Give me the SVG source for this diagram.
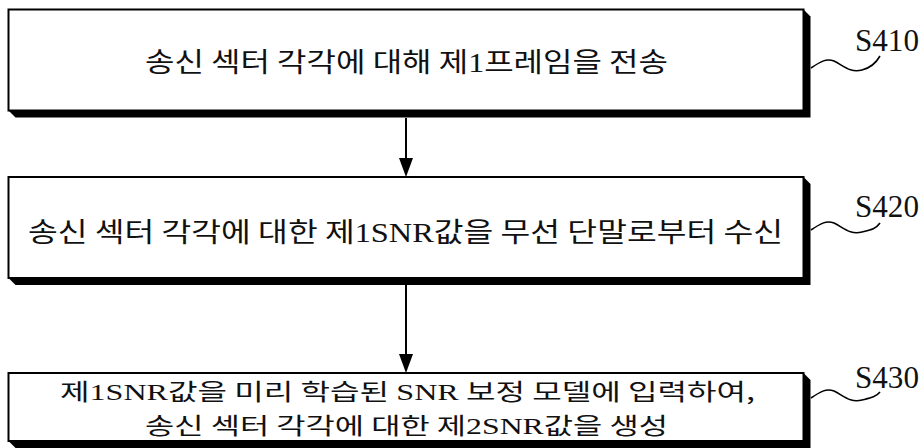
<svg xmlns="http://www.w3.org/2000/svg" width="922" height="448" viewBox="0 0 922 448">
<style>
.box{fill:#fff;stroke:#000;stroke-width:2}
.sh{fill:#000}
.t{font-family:"Noto Sans CJK KR","Noto Sans",sans-serif;font-size:27px;fill:#111}
.t3{font-size:23px}
.l{font-family:"Liberation Serif",serif}
.lab{font-family:"Liberation Serif",serif;font-size:31px;fill:#111}
.wave{fill:none;stroke:#000;stroke-width:1.6}
.conn{stroke:#000;stroke-width:2}
</style>
<rect width="922" height="448" fill="#fff"/>
<g id="connectors">
<line class="conn" x1="406" y1="118" x2="406" y2="158"/>
<path d="M399,158 L413,158 L406,177 Z" fill="#000"/>
<line class="conn" x1="406" y1="285" x2="406" y2="354"/>
<path d="M399,354 L413,354 L406,373 Z" fill="#000"/>
</g>
<g id="S410">
<polygon class="sh" points="803.5,9.5 810.5,16.5 810.5,117.5 15.5,117.5 8.5,110.5"/>
<rect class="box" x="8.5" y="9.5" width="795" height="101"/>
<text class="t" x="145" y="72" textLength="523" lengthAdjust="spacingAndGlyphs">송신 섹터 각각에 대해 제<tspan class="l">1</tspan>프레임을 전송</text>
<path class="wave" d="M811,68 C820,62 826,58 834,61 C844,66 850,73 862,70 C870,68 876,63 880,56"/>
<text class="lab" x="855" y="51" textLength="64" lengthAdjust="spacingAndGlyphs">S410</text>
</g>
<g id="S420">
<polygon class="sh" points="803.5,177 810.5,184 810.5,285 15.5,285 8.5,278"/>
<rect class="box" x="8.5" y="177" width="795" height="101"/>
<text class="t" x="28" y="242" textLength="755" lengthAdjust="spacingAndGlyphs">송신 섹터 각각에 대한 제<tspan class="l">1SNR</tspan>값을 무선 단말로부터 수신</text>
<path class="wave" d="M811,230 C820,224 826,220 834,223 C844,228 850,235 862,232 C870,230 876,229 880,223"/>
<text class="lab" x="855" y="217" textLength="64" lengthAdjust="spacingAndGlyphs">S420</text>
</g>
<g id="S430">
<polygon class="sh" points="803.5,373 810.5,380 810.5,448 15.5,448 8.5,441"/>
<rect class="box" x="8.5" y="373" width="795" height="68"/>
<text class="t t3" x="60" y="400" textLength="695" lengthAdjust="spacingAndGlyphs">제<tspan class="l">1SNR</tspan>값을 미리 학습된 <tspan class="l">SNR</tspan> 보정 모델에 입력하여,</text>
<text class="t t3" x="145" y="434" textLength="523" lengthAdjust="spacingAndGlyphs">송신 섹터 각각에 대한 제<tspan class="l">2SNR</tspan>값을 생성</text>
<path class="wave" d="M811,398 C820,392 826,388 834,391 C844,396 850,403 862,400 C870,398 876,397 880,392"/>
<text class="lab" x="855" y="388" textLength="64" lengthAdjust="spacingAndGlyphs">S430</text>
</g>
</svg>
